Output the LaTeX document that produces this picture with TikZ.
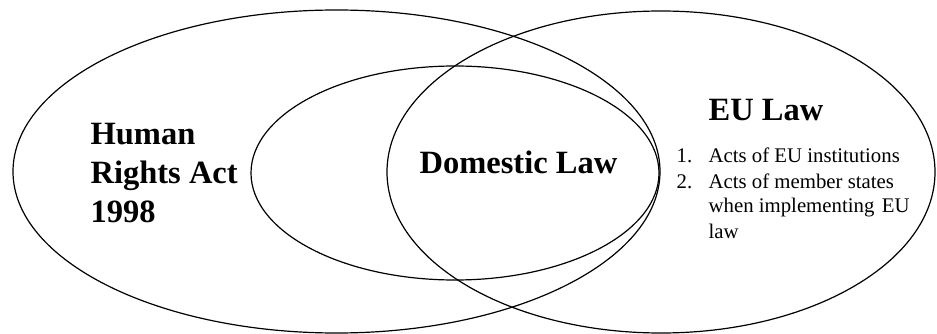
\documentclass[tikz,border=0pt]{standalone}
\usepackage{fontspec}
\setmainfont{Liberation Serif}
\usepackage{array}
\usetikzlibrary{positioning}

\begin{document}
\begin{tikzpicture}[x=1pt, y=-1pt, line width=1.2pt,
    setline/.style={draw=black},
    bigtext/.style={inner sep=0pt, font=\bfseries\fontsize{32.5}{39}\selectfont},
    listtext/.style={inner sep=0pt, font=\fontsize{20.8}{25}\selectfont}]
  \useasboundingbox (0,0) rectangle (937,334);

  % Human Rights Act set
  \draw[setline] (336.5,171.5) ellipse [x radius=323.5, y radius=161.5];
  % EU law set
  \draw[setline] (661,172) ellipse [x radius=274, y radius=161];
  % Domestic law set
  \draw[setline] (455,173) ellipse [x radius=204, y radius=107];

  % Labels
  \node[bigtext, anchor=base west] (hra) at (90,145)
    {\begin{tabular}[t]{@{}l@{}}Human\\ Rights Act\\ 1998\end{tabular}};
  \node[bigtext, anchor=base west] (domestic) at (419,173) {Domestic Law};
  \node[bigtext, anchor=base west] (eu) at (708,121) {EU Law};

  % What EU law covers
  \node[listtext, anchor=base west] (eulist) at (676,163)
    {\begin{tabular}[t]{@{}p{32pt}@{}p{201pt}@{}}
      1. & Acts of EU institutions\\
      2. & Acts of member states\\
         & when implementing\hfill EU\\
         & law
    \end{tabular}};
\end{tikzpicture}
\end{document}
